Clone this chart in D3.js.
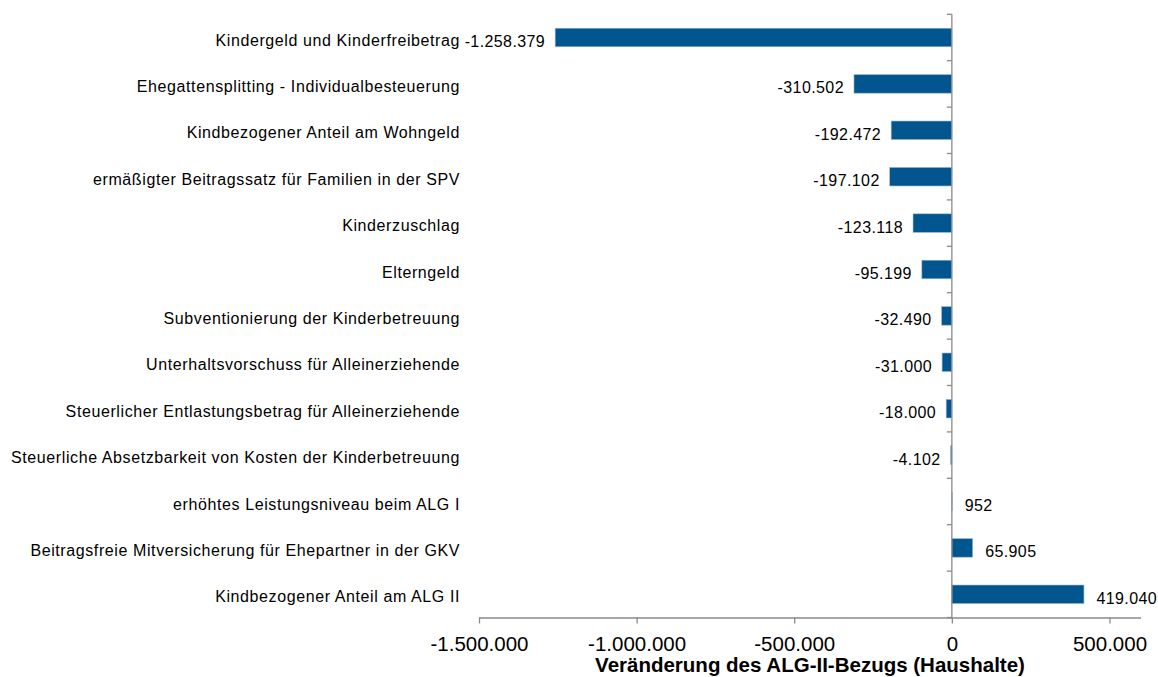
<!DOCTYPE html>
<html>
<head>
<meta charset="utf-8">
<script src="https://cdn.jsdelivr.net/npm/d3@7"></script>
<style>
  html, body { margin: 0; padding: 0; background: #fff; }
  svg { display: block; }
</style>
</head>
<body>
<svg id="chart" width="1158" height="677"></svg>
<script>
const categories = [
  "Kindergeld und Kinderfreibetrag",
  "Ehegattensplitting - Individualbesteuerung",
  "Kindbezogener Anteil am Wohngeld",
  "ermäßigter Beitragssatz für Familien in der SPV",
  "Kinderzuschlag",
  "Elterngeld",
  "Subventionierung der Kinderbetreuung",
  "Unterhaltsvorschuss für Alleinerziehende",
  "Steuerlicher Entlastungsbetrag für Alleinerziehende",
  "Steuerliche Absetzbarkeit von Kosten der Kinderbetreuung",
  "erhöhtes Leistungsniveau beim ALG I",
  "Beitragsfreie Mitversicherung für Ehepartner in der GKV",
  "Kindbezogener Anteil am ALG II"
];
const values = [-1258379, -310502, -192472, -197102, -123118, -95199, -32490, -31000, -18000, -4102, 952, 65905, 419040];
const tickValues = [-1500000, -1000000, -500000, 0, 500000];
const axisTitle = "Veränderung des ALG-II-Bezugs (Haushalte)";

(function () {
const locale = d3.formatLocale({decimal: ",", thousands: ".", grouping: [3], currency: ["", " €"], minus: "-"});
const fmt = locale.format(",d");

const svg = d3.select("#chart");
const pLeft = 479, pRight = 1141, pTop = 14.3, pBottom = 617.5;

const x = d3.scaleLinear().domain([-1500000, 600000]).range([pLeft, pRight]);
const y = d3.scaleBand().domain(categories).range([pTop, pBottom]).paddingInner(0.6).paddingOuter(0.3);
const step = y.step();

const axisColor = "#8a8a8a";
const barColor = "#02568f";
const font = "'Liberation Sans', Arial, sans-serif";

// bars
svg.append("g").selectAll("rect").data(values).join("rect")
  .attr("x", d => x(Math.min(0, d)))
  .attr("y", (d, i) => y(categories[i]))
  .attr("width", d => Math.abs(x(d) - x(0)))
  .attr("height", y.bandwidth())
  .attr("fill", barColor)
  .attr("stroke", "#9bb8d3")
  .attr("stroke-width", 0.6);

// x axis
const xAxis = d3.axisBottom(x).tickValues(tickValues).tickSize(6).tickPadding(8).tickFormat(d => fmt(d));
const gx = svg.append("g").attr("transform", `translate(0,${pBottom})`).call(xAxis);
gx.select(".domain").attr("stroke", axisColor).attr("stroke-width", 1.3).attr("d", `M${pLeft},0.5H${pRight}`);
gx.selectAll(".tick line").attr("stroke", axisColor).attr("stroke-width", 1.3);
gx.selectAll(".tick text").attr("font-family", font).attr("font-size", "20.5px").attr("fill", "#000").attr("dy", "0.95em");

// y axis at zero
const boundaries = d3.range(categories.length + 1).map(i => pTop + i * step);
const gy = svg.append("g");
gy.append("line").attr("x1", x(0)).attr("x2", x(0)).attr("y1", pTop).attr("y2", pBottom)
  .attr("stroke", axisColor).attr("stroke-width", 1.3);
gy.selectAll("line.t").data(boundaries).join("line").attr("class", "t")
  .attr("x1", x(0) - 5).attr("x2", x(0)).attr("y1", d => d).attr("y2", d => d)
  .attr("stroke", axisColor).attr("stroke-width", 1.3);

// category labels
svg.append("g").selectAll("text").data(categories).join("text")
  .attr("x", 460)
  .attr("y", d => y(d) + y.bandwidth() / 2 + 8)
  .attr("text-anchor", "end")
  .attr("font-family", font).attr("font-size", "16px").attr("letter-spacing", "0.6px")
  .attr("fill", "#000")
  .text(d => d);

// value labels
svg.append("g").selectAll("text").data(values).join("text")
  .attr("x", d => d < 0 ? x(d) - 10 : x(d) + 12.5)
  .attr("y", (d, i) => y(categories[i]) + y.bandwidth() / 2 + 9.5)
  .attr("text-anchor", d => d < 0 ? "end" : "start")
  .attr("font-family", font).attr("font-size", "16px").attr("letter-spacing", "0.4px")
  .attr("fill", "#000")
  .text(d => fmt(d));

// axis title
svg.append("text")
  .attr("x", (pLeft + pRight) / 2).attr("y", 672)
  .attr("text-anchor", "middle")
  .attr("font-family", font).attr("font-size", "20.5px").attr("font-weight", "bold")
  .attr("fill", "#000")
  .text(axisTitle);
})();
</script>
</body>
</html>
